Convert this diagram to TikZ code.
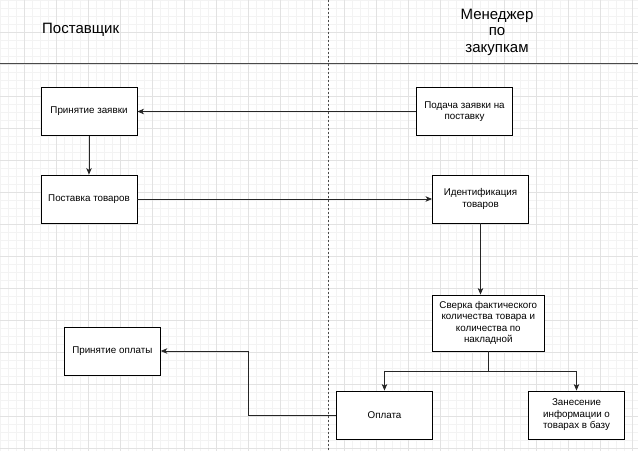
\documentclass[tikz,border=0pt]{standalone}
\usepackage{fontspec}
\setmainfont{Liberation Sans}
\usetikzlibrary{arrows.meta}
\definecolor{gridminor}{HTML}{F3F3F3}
\definecolor{gridmajor}{HTML}{E2E2E2}
\definecolor{laneline}{HTML}{4A4A4A}
\begin{document}
\begin{tikzpicture}[x=1pt,y=-1pt,
  stepbox/.style={draw=black, line width=0.9pt, fill=white, minimum width=96pt,
    minimum height=48pt, align=center, inner sep=2pt,
    font=\fontsize{9.8}{11.5}\selectfont},
  arr/.style={draw=black!85, line width=0.8pt,
    -{Stealth[length=6.5pt,width=5.5pt,inset=1.8pt]}},
  lane/.style={font=\fontsize{15}{16.5}\selectfont, align=center, inner sep=0pt}]
\useasboundingbox (0,0) rectangle (638,451);
\fill[white] (0,0) rectangle (638,451);
% background grid
\foreach \gx in {0,8,...,632} \draw[gridminor, line width=0.5pt] (\gx,0) -- (\gx,451);
\foreach \gy in {0,8,...,448} \draw[gridminor, line width=0.5pt] (0,\gy) -- (638,\gy);
\foreach \gx in {24,56,...,632} \draw[gridmajor, line width=0.6pt] (\gx,0) -- (\gx,451);
\foreach \gy in {32,64,...,448} \draw[gridmajor, line width=0.6pt] (0,\gy) -- (638,\gy);
% swimlane separators
\draw[laneline, line width=0.9pt] (0,63) -- (638,63);
\draw[laneline, line width=0.8pt, dash pattern=on 2pt off 2pt] (328,0) -- (328,451);
% lane titles
\node[lane, anchor=west] (supplier) at (42,30) {Поставщик};
\node[lane] (manager) at (497,32) {Менеджер\\по\\закупкам};
% process steps
\node[stepbox] (zayavka) at (89,111.5) {Принятие заявки};
\node[stepbox] (podacha) at (464.5,111.5) {Подача заявки на\\поставку};
\node[stepbox] (postavka) at (89,199) {Поставка товаров};
\node[stepbox] (ident) at (480.5,199) {Идентификация\\товаров};
\node[stepbox, minimum width=112pt, minimum height=56pt] (sverka) at (488.3,323)
  {Сверка фактического\\количества товара и\\количества по\\накладной};
\node[stepbox] (oplata) at (384.5,415) {Оплата};
\node[stepbox] (zanesenie) at (576.5,415) {Занесение\\информации о\\товарах в базу};
\node[stepbox] (priem) at (112.3,351) {Принятие оплаты};
% flow
\draw[arr] (podacha.west) -- (zayavka.east);
\draw[arr] (zayavka.south) -- (postavka.north);
\draw[arr] (postavka.east) -- (ident.west);
\draw[arr] (ident.south) -- (ident.south |- sverka.north);
\coordinate (split) at ([yshift=-20pt]sverka.south);
\draw[arr] (sverka.south) -- (split) -| (oplata.north);
\draw[arr] (split) -| (zanesenie.north);
\draw[arr] (oplata.west) -- ++(-88,0) |- (priem.east);
\end{tikzpicture}
\end{document}
